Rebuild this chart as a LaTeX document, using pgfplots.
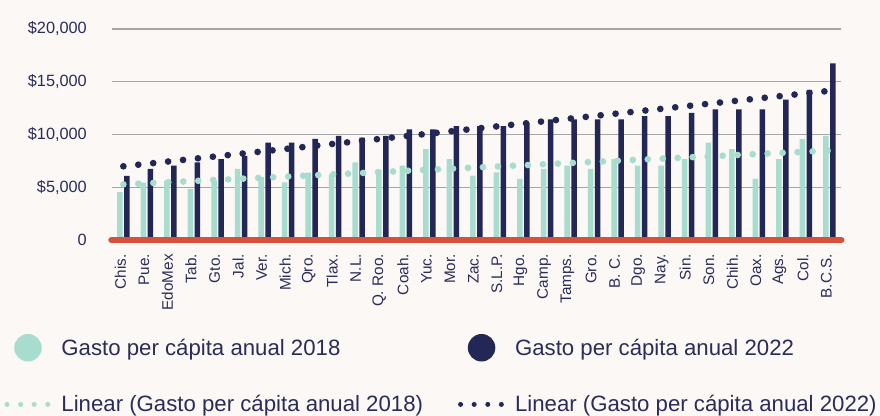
\documentclass[border=0pt]{standalone}
\usepackage{pgfplots}
\usepackage{pgfplotstable}
\pgfplotsset{compat=1.18}
\usepackage{fontspec}
\setmainfont{Liberation Sans}
\definecolor{bgc}{HTML}{FBF8F5}
\definecolor{lightc}{HTML}{A8DCCF}
\definecolor{darkc}{HTML}{232755}
\definecolor{redc}{HTML}{D6513B}
\definecolor{gridc}{HTML}{A6A6A6}
\definecolor{txtc}{HTML}{2A2C5A}
\pgfplotstableread{
x L D
0 4540 6080
1 5450 6730
2 5630 7040
3 4850 7350
4 5630 7670
5 6730 7980
6 5950 9230
7 5470 9230
8 6380 9580
9 6200 9860
10 7350 9700
11 6670 9860
12 7040 10490
13 8610 10490
14 7670 10800
15 6100 10800
16 6410 10800
17 5790 11110
18 6730 11430
19 7040 11430
20 6730 11430
21 7670 11430
22 7040 11740
23 7040 11740
24 7670 12050
25 9230 12370
26 8610 12370
27 5790 12370
28 7670 13300
29 9550 14240
30 9860 16740
}\data
\begin{document}
\begin{tikzpicture}
\fill[bgc] (0,0) rectangle (880bp,416bp);
\begin{axis}[
  at={(111.6bp,176bp)}, anchor=south west,
  scale only axis, width=729.6bp, height=211bp,
  xmin=-0.5, xmax=30.5, ymin=0, ymax=20000,
  clip=false,
  scaled y ticks=false,
  axis line style={draw=none},
  major tick length=0pt,
  xtick={0,...,30},
  xticklabels={Chis.,Pue.,EdoMex,Tab.,Gto.,Jal.,Ver.,Mich.,Qro.,Tlax.,N.L.,Q. Roo.,Coah.,Yuc.,Mor.,Zac.,S.L.P.,Hgo.,Camp.,Tamps.,Gro.,B. C.,Dgo.,Nay.,Sin.,Son.,Chih.,Oax.,Ags.,Col.,B.C.S.},
  xticklabel style={xshift=-3bp, yshift=-14bp, rotate=90, anchor=east, inner sep=0pt, font=\fontsize{15.3bp}{18bp}\selectfont, text=txtc},
  ytick={0,5000,10000,15000,20000},
  yticklabels={0,\$5{,}000,\$10{,}000,\$15{,}000,\$20{,}000},
  yticklabel style={anchor=east, inner sep=0pt, xshift=-24.6bp, font=\fontsize{16.3bp}{19bp}\selectfont, text=txtc},
  ymajorgrids, grid style={gridc, line width=1.3bp},
  legend columns=2,
  legend cell align=left,
  legend style={at={(axis description cs:-0.1475,-0.4455)}, anchor=north west,
    draw=none, fill=none, inner sep=0pt, outer sep=0pt,
    font=\fontsize{22.2bp}{27bp}\selectfont, text=txtc,
    nodes={inner sep=0pt},
    row sep=34bp,
    /tikz/every odd column/.append style={column sep=11bp},
    /tikz/every even column/.append style={column sep=34.5bp}},
]
\addplot[ybar, bar width=5.5bp, bar shift=-3.5bp, fill=lightc, draw=none,
  legend image code/.code={\path[draw=none,fill=none] (0bp,-13.75bp) rectangle (46.5bp,13.75bp); \path[fill=lightc, draw=none] (24bp,0bp) circle (13.75bp);}]
  table[x=x, y=L] {\data};
\addlegendentry{Gasto per cápita anual 2018}
\addplot[ybar, bar width=5.5bp, bar shift=3.5bp, fill=darkc, draw=none,
  legend image code/.code={\path[draw=none,fill=none] (0bp,-13.75bp) rectangle (46.5bp,13.75bp); \path[fill=darkc, draw=none] (24bp,0bp) circle (13.75bp);}]
  table[x=x, y=D] {\data};
\addlegendentry{Gasto per cápita anual 2022}
\addplot[lightc, line width=6.7bp, dash pattern=on 0pt off 15bp, line cap=round, mark=none,
  legend image code/.code={\path[draw=none,fill=none] (0bp,-2.5bp) rectangle (46.5bp,2.5bp); \foreach \xx in {3,16.6,30.2,43.8}{\path[fill=lightc, draw=none] (\xx bp,0bp) circle (2.5bp);}}]
  table[x=x, y={create col/linear regression={y=L}}] {\data};
\addlegendentry{Linear (Gasto per cápita anual 2018)}
\addplot[darkc, line width=6.7bp, dash pattern=on 0pt off 15bp, line cap=round, mark=none,
  legend image code/.code={\path[draw=none,fill=none] (0bp,-2.5bp) rectangle (46.5bp,2.5bp); \foreach \xx in {3,16.6,30.2,43.8}{\path[fill=darkc, draw=none] (\xx bp,0bp) circle (2.5bp);}}]
  table[x=x, y={create col/linear regression={y=D}}] {\data};
\addlegendentry{Linear (Gasto per cápita anual 2022)}
\addplot[redc, line width=6.7bp, line cap=round, mark=none, forget plot] coordinates {(-0.5,0) (30.5,0)};
\end{axis}
\pgfresetboundingbox
\useasboundingbox (0,0) rectangle (880bp,416bp);
\end{tikzpicture}
\end{document}
